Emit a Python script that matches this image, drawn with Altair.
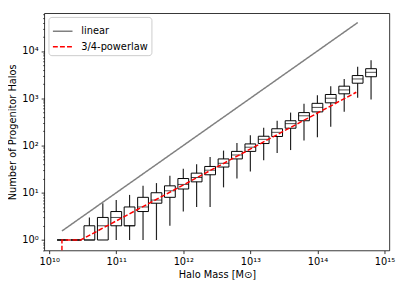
import altair as alt
import pandas as pd

# ---- data ----
mass = [1.58e10, 2.51e10, 3.98e10, 6.31e10, 1.0e11, 1.58e11, 2.51e11, 3.98e11,
        6.31e11, 1.0e12, 1.58e12, 2.51e12, 3.98e12, 6.31e12, 1.0e13, 1.58e13,
        2.51e13, 3.98e13, 6.31e13, 1.0e14, 1.58e14, 2.51e14, 3.98e14, 6.31e14]
whisker_lo = [1, 1, 1, 1, 1, 1, 1, 1, 2, 4, 5, 5, 13, 20, 28, 49, 69, 80, 128, 150,
              250, 520, 1020, 940]
q1 = [1, 1, 1, 1, 2, 2, 4, 6, 8, 12, 17, 24, 35, 52, 75, 110, 155, 232, 334, 514,
      800, 1240, 2080, 2850]
median = [1, 1, 1, 2, 3, 2, 5, 7, 11, 15, 21, 30, 42, 63, 92, 135, 190, 290, 425, 640,
          1000, 1500, 2560, 3540]
q3 = [1, 1, 2, 3, 4, 5, 8, 10, 14, 20, 26, 36, 52, 75, 108, 157, 226, 334, 497, 780,
      1200, 1800, 3020, 4220]
whisker_hi = [1, 1, 3, 6, 7, 9, 14, 16, 23, 32, 40, 57, 78, 113, 164, 237, 334, 497,
              764, 1150, 1790, 2560, 4660, 6370]

linear_mass = [1.55e10, 4.0e14]
linear_n = [1.55, 4.0e4]
power_mass = [1.55e10, 1.55e10, 2.95e10, 3.8e14]
power_n = [0.3, 1, 1, 1340]

series_names = ["linear", "3/4-powerlaw"]
x_ticks = [1e10, 1e11, 1e12, 1e13, 1e14, 1e15]
y_decades = [0.1, 1, 10, 100, 1000, 10000]

y_ticks = [m * d for d in y_decades for m in range(1, 10) if 0.6 <= m * d <= 6.3e4]

boxes = pd.DataFrame(dict(mass=mass, wlo=whisker_lo, q1=q1, med=median, q3=q3,
                          whi=whisker_hi))
lines = pd.DataFrame({
    "mass": linear_mass + power_mass,
    "n": linear_n + power_n,
    "series": [series_names[0]] * len(linear_mass) + [series_names[1]] * len(power_mass),
    "order": list(range(len(linear_mass) + len(power_mass))),
})

FONT = "DejaVu Sans"
FS = 10
SUP = "⁰¹²³⁴⁵⁶⁷⁸⁹"
E = "round(log(datum.value)/LN10)"
sup_expr = (f"'10' + ({E} >= 10 ? substring('{SUP}', floor({E}/10), floor({E}/10)+1) : '')"
            f" + substring('{SUP}', {E} % 10, {E} % 10 + 1)")
is_dec = f"abs(log(datum.value)/LN10 - {E}) < 0.001"

xscale = alt.Scale(type="log", domain=[1e10, 1e15], nice=False)
yscale = alt.Scale(type="log", domain=[0.6, 6.3e4], nice=False)

xaxis = alt.Axis(values=x_ticks, labelExpr=sup_expr, grid=False, domain=False,
                 tickSize=3.2, tickWidth=0.8, tickColor="black", labelPadding=3,
                 labelFont=FONT, labelFontSize=FS, labelColor="black",
                 title="Halo Mass [M⊙]", titleFont=FONT, titleFontSize=FS,
                 titleFontWeight="normal", titleColor="black", titlePadding=3,
                 labelFlush=False)
yaxis = alt.Axis(values=y_ticks, labelExpr=f"{is_dec} ? {sup_expr} : ''", grid=False,
                 domain=False,
                 tickSize={"condition": {"test": is_dec, "value": 3.2}, "value": 1.8},
                 tickWidth={"condition": {"test": is_dec, "value": 0.8}, "value": 0.6},
                 tickColor="black", labelPadding=3,
                 labelFont=FONT, labelFontSize=FS, labelColor="black",
                 title="Number of Progenitor Halos", titleFont=FONT, titleFontSize=FS,
                 titleFontWeight="normal", titleColor="black", titlePadding=4,
                 labelFlush=False)

X = alt.X("mass:Q", scale=xscale, axis=xaxis)

whisk_lo = alt.Chart(boxes).mark_rule(color="#222222", strokeWidth=1.2).encode(
    x=X, y=alt.Y("wlo:Q", scale=yscale, axis=yaxis), y2="q1:Q")
whisk_hi = alt.Chart(boxes).mark_rule(color="#222222", strokeWidth=1.2).encode(
    x=X, y=alt.Y("q3:Q", scale=yscale, axis=yaxis), y2="whi:Q")
box = alt.Chart(boxes).mark_bar(size=11, fillOpacity=0, stroke="black",
                                strokeWidth=1).encode(
    x=X, y=alt.Y("q1:Q", scale=yscale, axis=yaxis), y2="q3:Q")
med = alt.Chart(boxes).mark_tick(orient="horizontal", size=11, thickness=1,
                                 color="black").encode(
    x=X, y=alt.Y("med:Q", scale=yscale, axis=yaxis))

legend = alt.Legend(title=None, orient="none", legendX=4.3, legendY=3.8,
                    symbolType="stroke", symbolSize=400, symbolStrokeWidth=1.5,
                    labelFont=FONT, labelFontSize=FS, labelColor="black",
                    padding=3.5, rowPadding=-5, labelOffset=8,
                    fillColor="rgba(255,255,255,0.8)", strokeColor="#cccccc",
                    cornerRadius=3)
trend = alt.Chart(lines).mark_line(clip=True, strokeWidth=1.5).encode(
    x=X, y=alt.Y("n:Q", scale=yscale, axis=yaxis),
    color=alt.Color("series:N", scale=alt.Scale(domain=series_names,
                                                range=["#808080", "#ff0000"]),
                    legend=legend),
    strokeDash=alt.StrokeDash("series:N", scale=alt.Scale(domain=series_names,
                                                          range=[[1, 0], [5, 2.2]]),
                              legend=legend),
    order="order:Q")

chart = alt.layer(whisk_lo, whisk_hi, box, med, trend).properties(
    width=352, height=242,
    autosize=alt.AutoSizeParams(type="none"),
    padding={"left": 37, "top": 2.5, "right": 19, "bottom": 38},
).configure_view(stroke="black", strokeWidth=0.8)

chart.save("out.html", embed_options={"renderer": "svg", "actions": False})
